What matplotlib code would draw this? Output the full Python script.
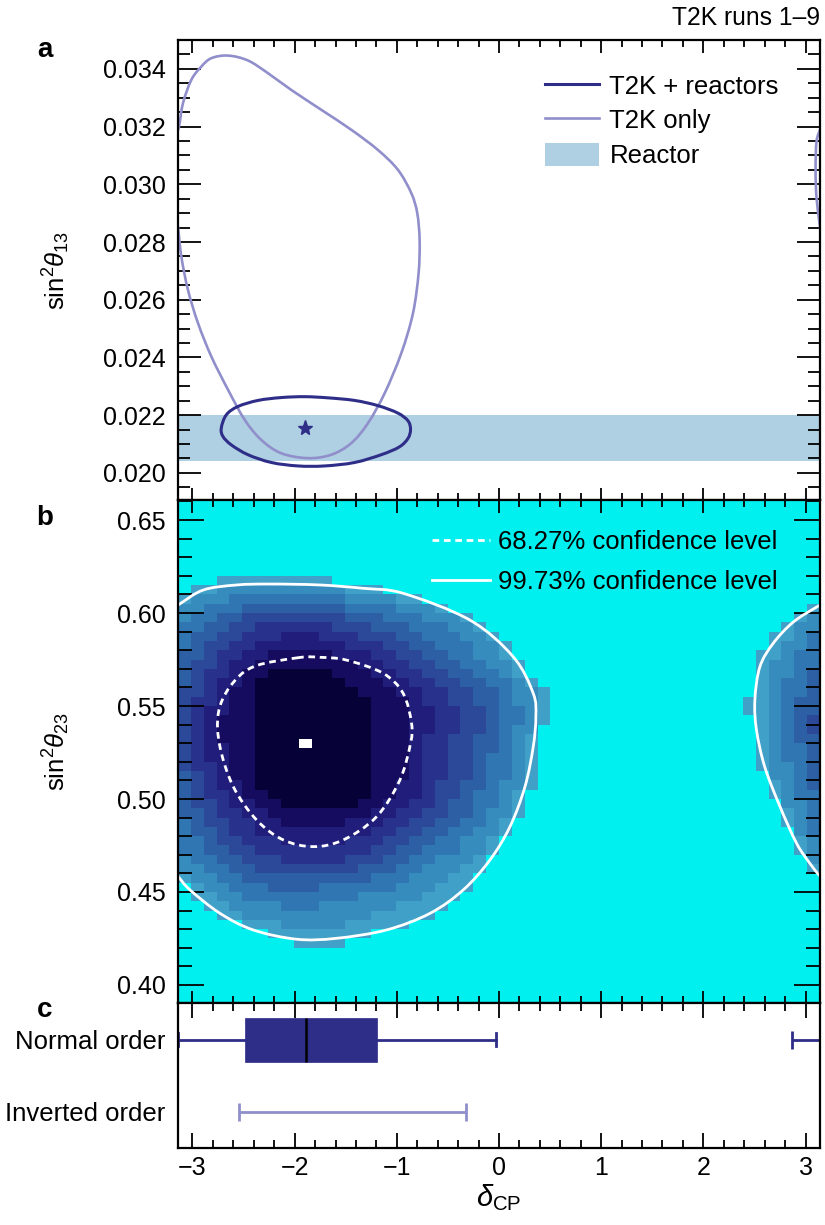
import numpy as np
import matplotlib
matplotlib.use("Agg")
import matplotlib.pyplot as plt
from matplotlib.path import Path
from matplotlib.patches import PathPatch, Rectangle, Patch
from matplotlib.colors import ListedColormap, BoundaryNorm
from matplotlib.lines import Line2D
from matplotlib.ticker import MultipleLocator, FormatStrFormatter

plt.rcParams['font.family'] = ['Liberation Sans', 'DejaVu Sans']
plt.rcParams['mathtext.fontset'] = 'custom'
plt.rcParams['mathtext.rm'] = 'Liberation Sans'
plt.rcParams['mathtext.it'] = 'Liberation Sans:italic'
plt.rcParams['mathtext.bf'] = 'Liberation Sans:bold'

# ---------------- data: panel a ----------------
t2k_only_dcp = [-2.652, -2.457, -2.261, -2.033, -1.739, -1.446, -1.185, -0.989, -0.858, -0.800,
                -0.777, -0.787, -0.842, -0.956, -1.119, -1.283, -1.446, -1.641, -1.870, -2.131,
                -2.326, -2.489, -2.652, -2.815, -2.946, -3.044, -3.109, -3.142, -3.175, -3.185,
                -3.175, -3.132, -3.093, -3.011, -2.913, -2.815]
t2k_only_s13 = [0.03446, 0.03429, 0.03385, 0.03327, 0.03258, 0.03189, 0.03119, 0.03050, 0.02969, 0.02900,
                0.02807, 0.02692, 0.02553, 0.02415, 0.02276, 0.02172, 0.02103, 0.02063, 0.02051, 0.02068,
                0.02114, 0.02184, 0.02288, 0.02403, 0.02519, 0.02634, 0.02750, 0.02854, 0.02950, 0.03050,
                0.03150, 0.03200, 0.03281, 0.03362, 0.03408, 0.03437]

t2k_reac_dcp = [-2.718, -2.669, -2.555, -2.359, -2.131, -1.902, -1.674, -1.413, -1.185, -0.989,
                -0.890, -0.866, -0.890, -0.975, -1.152, -1.413, -1.707, -1.967, -2.228, -2.457,
                -2.620, -2.701]
t2k_reac_s13 = [0.02155, 0.02201, 0.02230, 0.02251, 0.02261, 0.02264, 0.02260, 0.02251, 0.02233, 0.02207,
                0.02180, 0.02150, 0.02120, 0.02090, 0.02063, 0.02036, 0.02024, 0.02024, 0.02036, 0.02063,
                0.02097, 0.02126]

bestfit_a = (-1.896, 0.02157)
reactor_band = (0.02042, 0.02200)

# ---------------- data: panel b ----------------
# 99.73% contour (delta_CP unwrapped below -pi, drawn also shifted by 2pi)
cl3_dcp = [-3.600, -3.730, -3.779, -3.763, -3.683, -3.533, -3.371, -3.241, -3.1416, -3.024,
           -2.730, -2.406, -1.980, -1.589, -1.100, -0.676, -0.350, -0.089, 0.107, 0.254,
           0.335, 0.361, 0.335, 0.139, -0.284, -0.937, -1.328, -1.752, -2.241, -2.568,
           -2.894, -3.1416, -3.400]
cl3_s23 = [0.5837, 0.5711, 0.5532, 0.5371, 0.5174, 0.4959, 0.4762, 0.4654, 0.4585, 0.4511,
           0.4385, 0.4296, 0.4246, 0.4251, 0.4296, 0.4385, 0.4511, 0.4672, 0.4851, 0.5066,
           0.5281, 0.5443, 0.5568, 0.5765, 0.5962, 0.6106, 0.6133, 0.6151, 0.6156, 0.6151,
           0.6124, 0.6043, 0.5953]
# 68.27% contour
cl1_dcp = [-1.964, -2.405, -2.633, -2.747, -2.731, -2.600, -2.372, -2.111, -1.818, -1.524,
           -1.198, -0.970, -0.866, -0.856, -0.938, -1.134, -1.492, -1.752]
cl1_s23 = [0.5760, 0.5711, 0.5604, 0.5461, 0.5281, 0.5066, 0.4887, 0.4780, 0.4744, 0.4780,
           0.4905, 0.5102, 0.5299, 0.5407, 0.5568, 0.5676, 0.5747, 0.5762]
bestfit_b = (-1.892, 0.5297)

# posterior histogram, levels 0 (empty) .. 9 (highest); rows from s23 = 0.615-0.620 down to 0.420-0.425
n_dcp_bins = 50
s23_low, s23_step = 0.420, 0.005
levels_main = [   # delta_CP bins 0..28
    "00011111111100000000000000000",
    "01122222222221110000000000000",
    "12223333333332222110000000000",
    "22333444444443333222100000000",
    "23344555555554443332221000000",
    "33445566666655544433322100000",
    "34455666777666555443332210000",
    "34556677777776665544333221000",
    "44566778888877766554433221000",
    "45567788888888776655443322100",
    "45667889999988877665544332100",
    "45677899999998887766554433210",
    "55678899999999888776655443221",
    "56678899999999988876655443221",
    "56778899999999988877665543321",
    "56788899999999988877665543321",
    "56788899999999988877665543220",
    "56788899999999988876655443210",
    "56778899999999988876655443210",
    "56778899999999988876655433210",
    "56678899999999988876655433210",
    "45678899999999988876655433210",
    "45677899999999988776554432210",
    "45667889999999988776554332100",
    "45567788999999887766544332100",
    "44566778888888877665544322100",
    "34556677888887776655443321000",
    "34456677777777766554433221000",
    "33455666777776665544332210000",
    "33445566666666655443332210000",
    "23344555666665554433222100000",
    "22334455555555444332221100000",
    "12233444444444433322211000000",
    "01223334444333333222111000000",
    "01122333333333222221110000000",
    "00112222333222222111100000000",
    "00011222222222211111000000000",
    "00000111222221111100000000000",
    "00000001111111100000000000000",
    "00000000011110000000000000000",
]
levels_wrap = [   # delta_CP bins 44..49
    "000000", "000000", "000000", "000001", "000012", "000122", "001123", "001223",
    "011233", "012233", "012234", "012334", "012334", "112344", "112344", "012345",
    "012345", "012344", "012334", "012334", "012234", "002234", "001234", "001233",
    "000223", "000123", "000123", "000023", "000012", "000012", "000002", "000001",
    "000000", "000000", "000000", "000000", "000000", "000000", "000000", "000000",
]
level_colors = ["#00F0F0", "#40A0C8", "#378CBE", "#3076B2", "#2D5FA5",
                "#2C4898", "#28328C", "#201E7A", "#150C60", "#060237"]

# ---------------- data: panel c ----------------
order_labels = ["Normal order", "Inverted order"]
no_box = dict(med=-1.891, q1=-2.486, q3=-1.194, whislo=-np.pi, whishi=-0.032)
no_extra_interval = (2.870, np.pi)
io_interval = (-2.540, -0.320)

# ---------------- colours ----------------
navy = "#2E2D88"
light_purple = "#918FCB"
band_color = "#AFCFE2"
cyan = "#00F0F0"

# ---------------- helpers ----------------
def smooth_closed_path(xs, ys):
    pts = np.column_stack([xs, ys]).astype(float)
    n = len(pts)
    verts = [pts[0]]
    codes = [Path.MOVETO]
    for i in range(n):
        p0 = pts[(i - 1) % n]; p1 = pts[i]; p2 = pts[(i + 1) % n]; p3 = pts[(i + 2) % n]
        c1 = p1 + (p2 - p0) / 6.0
        c2 = p2 - (p3 - p1) / 6.0
        verts += [c1, c2, p2]
        codes += [Path.CURVE4] * 3
    return Path(verts, codes)

# ---------------- figure ----------------
W, H = 825, 1225
fig = plt.figure(figsize=(W / 100, H / 100), dpi=100)
L, R = 178 / W, 820 / W
ax_a = fig.add_axes([L, 1 - 500 / H, R - L, 460 / H])
ax_b = fig.add_axes([L, 1 - 1003 / H, R - L, 503 / H])
ax_c = fig.add_axes([L, 1 - 1148 / H, R - L, 145 / H])

FS = 18
LFS = 18.5
for ax in (ax_a, ax_b, ax_c):
    ax.set_xlim(-np.pi, np.pi)
    ax.xaxis.set_major_locator(MultipleLocator(1))
    ax.xaxis.set_minor_locator(MultipleLocator(0.2))
    for sp in ax.spines.values():
        sp.set_linewidth(1.6)
        sp.set_zorder(10)
    ax.tick_params(which='both', direction='in', top=True, bottom=True, width=1.3,
                   labelsize=FS, zorder=11)

# ----- panel a -----
ax_a.set_ylim(0.01906, 0.03500)
ax_a.axhspan(reactor_band[0], reactor_band[1], color=band_color, lw=0, zorder=1)
for shift in (0.0, 2 * np.pi):
    ax_a.add_patch(PathPatch(smooth_closed_path(np.array(t2k_only_dcp) + shift, t2k_only_s13),
                             fc='none', ec=light_purple, lw=1.9, zorder=3))
ax_a.add_patch(PathPatch(smooth_closed_path(t2k_reac_dcp, t2k_reac_s13),
                         fc='none', ec=navy, lw=2.2, zorder=4))
ax_a.plot([bestfit_a[0]], [bestfit_a[1]], marker='*', ms=11, color=navy, mec=navy, zorder=5)
ax_a.yaxis.set_major_locator(MultipleLocator(0.002))
ax_a.yaxis.set_minor_locator(MultipleLocator(0.0005))
ax_a.yaxis.set_major_formatter(FormatStrFormatter('%.3f'))
ax_a.tick_params(which='both', labelbottom=False, left=True, right=True)
ax_a.tick_params(axis='y', which='major', length=16.5, pad=9)
ax_a.tick_params(axis='y', which='minor', length=8.5)
ax_a.tick_params(axis='x', which='major', length=9)
ax_a.tick_params(axis='x', which='minor', length=5)
ax_a.set_ylabel(r'$\mathrm{sin}^2\theta_{13}$', fontsize=18.5)
ax_a.yaxis.set_label_coords(-0.165, 0.5)
h_a = [Line2D([], [], color=navy, lw=2.2), Line2D([], [], color=light_purple, lw=1.9),
       Patch(facecolor=band_color, edgecolor='none')]
ax_a.legend(h_a, ["T2K + reactors", "T2K only", "Reactor"], loc='upper left',
            bbox_to_anchor=(0.572, 0.927), frameon=False, fontsize=LFS, handlelength=2.1,
            handleheight=1.0, handletextpad=0.4, labelspacing=0.36, borderpad=0, borderaxespad=0)

# ----- panel b -----
ax_b.set_facecolor(cyan)
ax_b.set_ylim(0.3903, 0.6608)
dcp_edges = np.linspace(-np.pi, np.pi, n_dcp_bins + 1)
n_rows = len(levels_main)
s23_edges = s23_low + s23_step * np.arange(n_rows + 1)
grid = np.array([[int(ch) for ch in (m + '0' * (n_dcp_bins - len(m) - len(w)) + w)]
                 for m, w in zip(levels_main, levels_wrap)])[::-1]
cmap = ListedColormap(level_colors)
norm = BoundaryNorm(np.arange(-0.5, 10.5, 1), cmap.N)
ax_b.pcolormesh(dcp_edges, s23_edges, grid, cmap=cmap, norm=norm, edgecolors='none',
                antialiased=False, zorder=1)
for shift in (0.0, 2 * np.pi):
    ax_b.add_patch(PathPatch(smooth_closed_path(np.array(cl3_dcp) + shift, cl3_s23),
                             fc='none', ec='white', lw=2.0, zorder=3))
ax_b.add_patch(PathPatch(smooth_closed_path(cl1_dcp, cl1_s23), fc='none', ec='white',
                         lw=2.0, ls=(0, (2.4, 1.7)), zorder=3))
bw = dcp_edges[1] - dcp_edges[0]
ax_b.add_patch(Rectangle((bestfit_b[0] - bw / 2, bestfit_b[1] - s23_step / 2), bw, s23_step,
                         fc='white', ec='none', zorder=4))
ax_b.yaxis.set_major_locator(MultipleLocator(0.05))
ax_b.yaxis.set_minor_locator(MultipleLocator(0.01))
ax_b.yaxis.set_major_formatter(FormatStrFormatter('%.2f'))
ax_b.tick_params(which='both', labelbottom=False, left=True, right=True)
ax_b.tick_params(axis='y', which='major', length=19, pad=9)
ax_b.tick_params(axis='y', which='minor', length=10)
ax_b.tick_params(axis='x', which='major', length=9)
ax_b.tick_params(axis='x', which='minor', length=5)
ax_b.set_ylabel(r'$\mathrm{sin}^2\theta_{23}$', fontsize=18.5)
ax_b.yaxis.set_label_coords(-0.165, 0.5)
h_b = [Line2D([], [], color='white', lw=2.0, ls=(0, (2.4, 1.7))), Line2D([], [], color='white', lw=2.0)]
ax_b.legend(h_b, ["68.27% confidence level", "99.73% confidence level"], loc='upper left',
            bbox_to_anchor=(0.396, 0.941), frameon=False, fontsize=LFS, handlelength=2.25,
            handletextpad=0.3, labelspacing=0.63, borderpad=0, borderaxespad=0)

# ----- panel c -----
ax_c.set_ylim(-0.5, 1.51)
stats = [dict(no_box, fliers=[], label='')]
ax_c.bxp(stats, positions=[1], widths=0.61, vert=False, patch_artist=True, showfliers=False,
         boxprops=dict(facecolor=navy, edgecolor=navy, linewidth=0.5),
         medianprops=dict(color='black', linewidth=1.8),
         whiskerprops=dict(color=navy, linewidth=2.0),
         capprops=dict(color=navy, linewidth=2.0), capwidths=0.18, manage_ticks=False)
lo, hi = no_extra_interval
ax_c.errorbar([(lo + hi) / 2], [1], xerr=[(hi - lo) / 2], fmt='none', ecolor=navy,
              elinewidth=2.0, capsize=6.5, capthick=2.0)
lo, hi = io_interval
ax_c.errorbar([(lo + hi) / 2], [0], xerr=[(hi - lo) / 2], fmt='none', ecolor=light_purple,
              elinewidth=2.0, capsize=6.5, capthick=2.0)
ax_c.set_yticks([1, 0])
ax_c.set_yticklabels(order_labels)
ax_c.tick_params(axis='y', left=False, right=False, length=0, pad=9, labelsize=FS + 0.5)
ax_c.tick_params(axis='x', which='major', length=11, pad=6)
ax_c.tick_params(axis='x', which='minor', length=6)
ax_c.set_xlabel(r'$\delta_{\mathrm{CP}}$', fontsize=21)
ax_c.xaxis.set_label_coords(0.5, -0.235)

# ----- annotations -----
for lab, yy in (("a", 50), ("b", 518), ("c", 1010)):
    fig.text(45 / W, 1 - yy / H, lab, ha='center', va='center', fontsize=20, fontweight='bold')
fig.text(820 / W, 1 - 18 / H, "T2K runs 1\u20139", ha='right', va='center', fontsize=17.7)

fig.savefig("out.png", dpi=100)
